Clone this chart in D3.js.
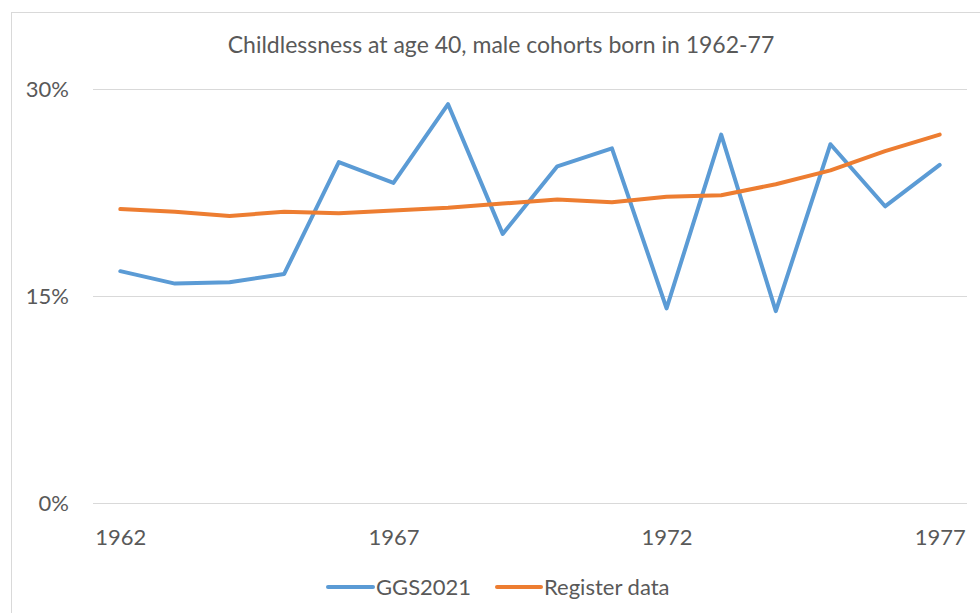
<!DOCTYPE html>
<html>
<head>
<meta charset="utf-8">
<script src="https://cdn.jsdelivr.net/npm/d3@7"></script>
<style>
  html, body { margin: 0; padding: 0; background: #fff; }
  svg { display: block; font-family: Lato, "Open Sans", sans-serif; }
</style>
</head>
<body>
<svg id="chart" width="980" height="613"></svg>
<script>
const years = [1962,1963,1964,1965,1966,1967,1968,1969,1970,1971,1972,1973,1974,1975,1976,1977];
const ggs2021 = [16.8,15.9,16.0,16.6,24.7,23.2,28.9,19.5,24.4,25.7,14.1,26.7,13.9,26.0,21.5,24.5];
const registerData = [21.3,21.1,20.8,21.1,21.0,21.2,21.4,21.7,22.0,21.8,22.2,22.3,23.1,24.1,25.5,26.7];
const yTicks = [0, 15, 30];
const xTicks = [1962, 1967, 1972, 1977];
const seriesNames = ["GGS2021", "Register data"];
const colors = ["#5B9BD5", "#ED7D31"];
const title = "Childlessness at age 40, male cohorts born in 1962-77";

const svg = d3.select("#chart");
const textColor = "#595959";

// outer chart border
svg.append("rect")
  .attr("x", 11.5).attr("y", 12.5)
  .attr("width", 1000).attr("height", 700)
  .attr("fill", "none").attr("stroke", "#D9D9D9").attr("stroke-width", 1);

const plotLeft = 93, plotRight = 967, plotTop = 89, plotBottom = 503;

const x = d3.scalePoint().domain(years).range([plotLeft, plotRight]).padding(0.5);
const y = d3.scaleLinear().domain([0, 30]).range([plotBottom, plotTop]);

// title
svg.append("text")
  .attr("x", 501).attr("y", 53)
  .attr("text-anchor", "middle")
  .attr("font-size", 23)
  .attr("fill", textColor)
  .text(title);

// y axis with gridlines
const yAxis = svg.append("g")
  .attr("transform", `translate(${plotLeft},0)`)
  .call(d3.axisLeft(y).tickValues(yTicks).tickFormat(d => d + "%")
    .tickSize(-(plotRight - plotLeft)).tickPadding(24));
yAxis.select(".domain").remove();
yAxis.selectAll(".tick line").attr("stroke", "#D9D9D9").attr("stroke-width", 1);
yAxis.selectAll(".tick text").attr("font-size", 22).attr("fill", textColor)
  .attr("font-family", "Lato, 'Open Sans', sans-serif");

// x axis
const xAxis = svg.append("g")
  .attr("transform", `translate(0,${plotBottom})`)
  .call(d3.axisBottom(x).tickValues(xTicks).tickSize(0).tickPadding(26));
xAxis.select(".domain").remove();
xAxis.selectAll(".tick text").attr("font-size", 22).attr("fill", textColor)
  .attr("font-family", "Lato, 'Open Sans', sans-serif");

// lines
const line = d3.line().x((d, i) => x(years[i])).y(d => y(d));
[ggs2021, registerData].forEach((vals, i) => {
  svg.append("path")
    .datum(vals)
    .attr("d", line)
    .attr("fill", "none")
    .attr("stroke", colors[i])
    .attr("stroke-width", 4)
    .attr("stroke-linejoin", "round")
    .attr("stroke-linecap", "round");
});

// legend
const legendY = 587;
const legendItems = [
  { x1: 328, x2: 373, tx: 376 },
  { x1: 497, x2: 541, tx: 544 }
];
legendItems.forEach((it, i) => {
  svg.append("line")
    .attr("x1", it.x1).attr("x2", it.x2)
    .attr("y1", legendY).attr("y2", legendY)
    .attr("stroke", colors[i]).attr("stroke-width", 4)
    .attr("stroke-linecap", "round");
  svg.append("text")
    .attr("x", it.tx).attr("y", legendY)
    .attr("dy", "0.35em")
    .attr("font-size", 22)
    .attr("fill", textColor)
    .text(seriesNames[i]);
});
</script>
</body>
</html>
